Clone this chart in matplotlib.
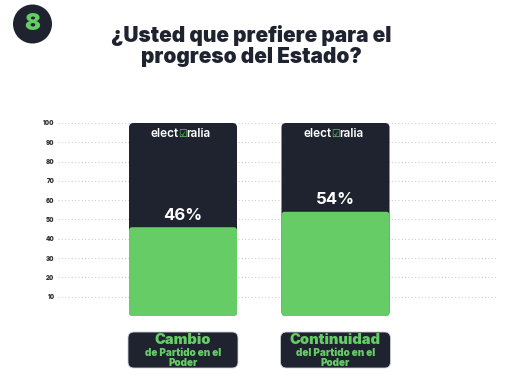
import matplotlib
matplotlib.use("Agg")
import matplotlib.pyplot as plt
from matplotlib.patches import FancyBboxPatch, Ellipse
from matplotlib.transforms import blended_transform_factory

categories_main = ["Cambio", "Continuidad"]
categories_sub = [["de Partido en el", "Poder"], ["del Partido en el", "Poder"]]
values = [46, 54]
yticks = [10, 20, 30, 40, 50, 60, 70, 80, 90, 100]
title_lines = ["¿Usted que prefiere para el", "progreso del Estado?"]
question_number = "8"

DARK = "#1f2330"
GREEN = "#66cc66"
HEAVY = ["Inter", "DejaVu Sans"]

W, H = 512, 381
fig = plt.figure(figsize=(W / 100, H / 100), dpi=100)
fig.patch.set_facecolor("white")

# axes placement (pixels)
ax_left, ax_right, ax_bottom_px, ax_top_px = 58, 497, 316, 117
c0, c1 = 183.0, 335.5
px_x = c1 - c0
xl = (-(c0 - ax_left) / px_x, 1 + (ax_right - c1) / px_x)
ax = fig.add_axes([ax_left / W, (H - ax_bottom_px) / H,
                   (ax_right - ax_left) / W, (ax_bottom_px - ax_top_px) / H])
px_y = 1.93
ax.set_ylim(0, (ax_bottom_px - ax_top_px) / px_y)
ax.set_xlim(*xl)
for s in ax.spines.values():
    s.set_visible(False)
ax.set_xticks([])
ax.set_yticks(yticks)
ax.set_yticklabels([str(t) for t in yticks], fontsize=4.4, color="#333333",
                   fontweight="black", family=HEAVY)
ax.tick_params(axis="y", length=0, pad=2.5)
for g in [0] + yticks:
    ax.axhline(g, color="#c4c4c4", lw=0.8, ls=(0, (0.8, 2.2)), zorder=0)

bw = 108 / px_x
r = 4.5
for i, v in enumerate(values):
    back = FancyBboxPatch((i - bw / 2, 0), bw, 100,
                          boxstyle=f"round,pad=0,rounding_size={r / px_x}",
                          mutation_aspect=px_x / px_y, fc=DARK, ec="none", zorder=2)
    ax.add_patch(back)
    front = FancyBboxPatch((i - bw / 2, 0), bw, v,
                           boxstyle=f"round,pad=0,rounding_size={3 / px_x}",
                           mutation_aspect=px_x / px_y, fc=GREEN, ec="none", zorder=3)
    ax.add_patch(front)
    ax.annotate(f"{v}%", (i, v), xytext=(0, 5.5), textcoords="offset points",
                ha="center", va="baseline", color="white", fontsize=12,
                fontweight="bold", family=HEAVY, zorder=4)
    # logo
    ax.annotate("elect", (i, 100), xytext=(-3.0, -8), textcoords="offset points",
                ha="right", va="center", color="white", fontsize=8.5,
                family=HEAVY, fontweight="semibold", zorder=4)
    ax.annotate("\u2611", (i, 100), xytext=(-3.4, -8), textcoords="offset points",
                ha="left", va="center", color=GREEN, fontsize=7,
                family=["DejaVu Sans"], zorder=4)
    ax.annotate("ralia", (i, 100), xytext=(2.6, -8), textcoords="offset points",
                ha="left", va="center", color="white", fontsize=8.5,
                family=HEAVY, fontweight="semibold", zorder=4)

# category label boxes
trans = blended_transform_factory(ax.transData, ax.transAxes)
ax_h_px = ax_bottom_px - ax_top_px
box_w = 110 / px_x
box_bottom = (ax_bottom_px - 368) / ax_h_px
box_top = (ax_bottom_px - 332) / ax_h_px
rr = 6
for i, (m, subs) in enumerate(zip(categories_main, categories_sub)):
    box = FancyBboxPatch((i - box_w / 2, box_bottom), box_w, box_top - box_bottom,
                         boxstyle=f"round,pad=0,rounding_size={rr / px_x}",
                         mutation_aspect=px_x / ax_h_px,
                         fc=DARK, ec="#cfd0d8", lw=0.6, transform=trans, clip_on=False)
    ax.add_patch(box)
    ax.text(i, (ax_bottom_px - 340) / ax_h_px, m, transform=trans, ha="center",
            va="center", color=GREEN, fontsize=10.5, fontweight="black", family=HEAVY)
    for k, line in enumerate(subs):
        ax.text(i, (ax_bottom_px - (352.5 + 11 * k)) / ax_h_px, line, transform=trans,
                ha="center", va="center", color=GREEN, fontsize=7.2,
                fontweight="black", family=HEAVY)

# title (two lines, baselines at 42 px and 63 px)
for k, line in enumerate(title_lines):
    fig.text(251 / W, 1 - (42 + 21 * k) / H, line, ha="center", va="baseline",
             fontsize=15, fontweight="black", color=DARK, family=HEAVY)

# number badge
fig.patches.append(Ellipse((32.5 / W, 1 - 24 / H), 39 / W, 39 / H,
                           transform=fig.transFigure, fc=DARK, ec="none"))
fig.text(32.5 / W, 1 - 24.5 / H, question_number, ha="center", va="center",
         fontsize=17, fontweight="black", color=GREEN, family=HEAVY)

fig.savefig("out.png", dpi=100)
